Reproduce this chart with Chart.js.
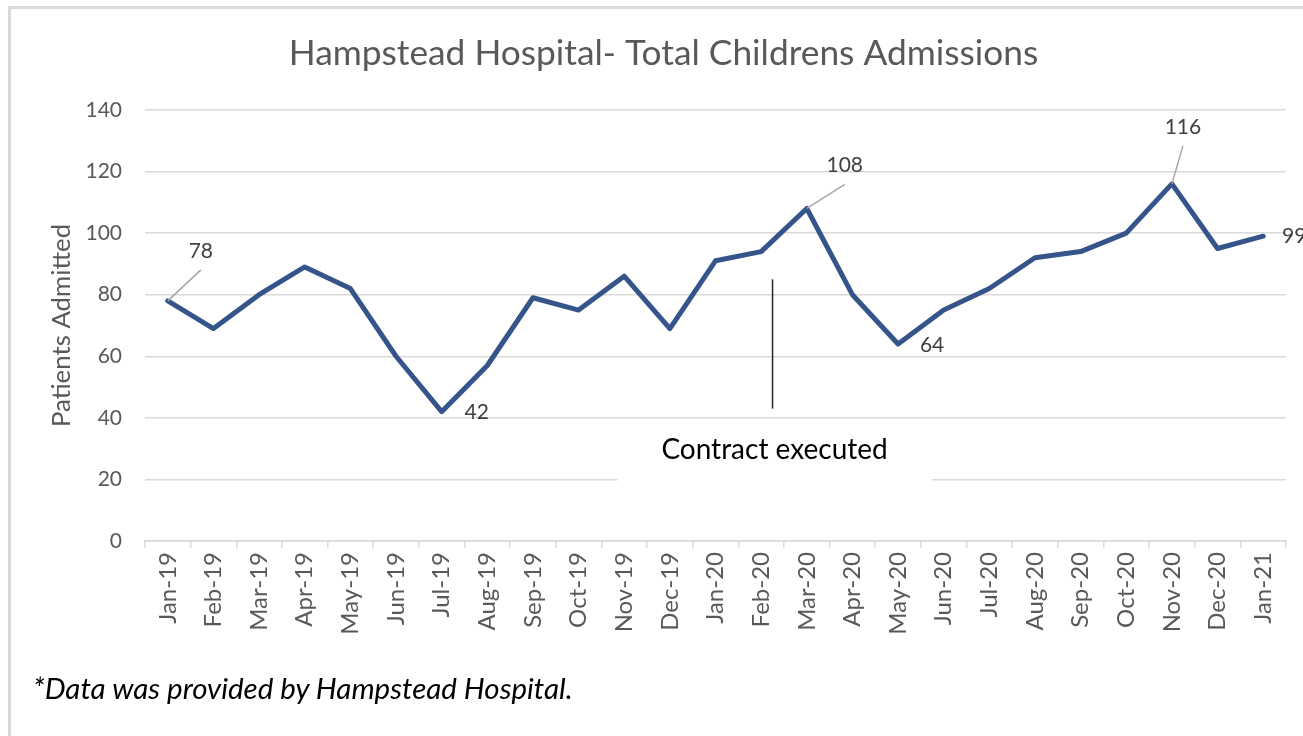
<!DOCTYPE html>
<html>
<head>
<meta charset="utf-8">
<script src="https://cdn.jsdelivr.net/npm/chart.js@4"></script>
<style>
  body { margin: 0; background: #fff; }
  #frame {
    position: absolute; left: 8px; top: 6px; width: 1295px; height: 730px;
    border-top: 3px solid #d9d9d9; border-left: 3px solid #d9d9d9;
  }
  #chart { position: absolute; left: 0; top: 0; }
  #note {
    position: absolute; left: 33px; top: 670px;
    font: italic 29.5px Lato, sans-serif; color: #000;
  }
</style>
</head>
<body>
<div id="frame"></div>
<canvas id="chart" width="1303" height="736"></canvas>
<div id="note">*Data was provided by Hampstead Hospital.</div>
<script>
const months = ["Jan-19", "Feb-19", "Mar-19", "Apr-19", "May-19", "Jun-19", "Jul-19", "Aug-19",
  "Sep-19", "Oct-19", "Nov-19", "Dec-19", "Jan-20", "Feb-20", "Mar-20", "Apr-20", "May-20",
  "Jun-20", "Jul-20", "Aug-20", "Sep-20", "Oct-20", "Nov-20", "Dec-20", "Jan-21"];
const admissions = [78, 69, 80, 89, 82, 60, 42, 57, 79, 75, 86, 69, 91, 94, 108, 80, 64,
  75, 82, 92, 94, 100, 116, 95, 99];
const yTicks = [0, 20, 40, 60, 80, 100, 120, 140];

// which points get a value label, and where it sits (px offset from the point)
const labelled = [
  { i: 0, dx: 33, dy: -50, leader: true },
  { i: 6, dx: 35, dy: 1, leader: false },
  { i: 14, dx: 38, dy: -43, leader: true },
  { i: 16, dx: 34, dy: 1, leader: false },
  { i: 22, dx: 11, dy: -57, leader: true },
  { i: 24, dx: 31, dy: 0, leader: false },
];

// "Contract executed" marker, in scale units
const contract = { x: 13.25, lineTop: 85, lineBottom: 43, textY: 29.5,
  boxLeft: 9.85, boxRight: 16.75, boxTop: 38, boxBottom: 14 };

const labelFont = "21px Lato, sans-serif";

const annotations = {
  id: "annotations",
  beforeDatasetsDraw(chart) {
    const { ctx, scales: { x, y } } = chart;
    // white text box covering part of the 20 gridline
    ctx.save();
    ctx.fillStyle = "#fff";
    const l = x.getPixelForValue(contract.boxLeft), r = x.getPixelForValue(contract.boxRight);
    const t = y.getPixelForValue(contract.boxTop), b = y.getPixelForValue(contract.boxBottom);
    ctx.fillRect(l, t, r - l, b - t);
    ctx.restore();
  },
  afterDatasetsDraw(chart) {
    const { ctx, scales: { x, y } } = chart;
    const meta = chart.getDatasetMeta(0);
    ctx.save();
    // contract line + text
    const cx = x.getPixelForValue(contract.x);
    ctx.strokeStyle = "#262626";
    ctx.lineWidth = 1.5;
    ctx.beginPath();
    ctx.moveTo(cx, y.getPixelForValue(contract.lineTop));
    ctx.lineTo(cx, y.getPixelForValue(contract.lineBottom));
    ctx.stroke();
    ctx.fillStyle = "#000";
    ctx.font = "28px Lato, sans-serif";
    ctx.textAlign = "center";
    ctx.textBaseline = "middle";
    ctx.fillText("Contract executed", cx + 2, y.getPixelForValue(contract.textY));

    // value labels
    ctx.font = labelFont;
    ctx.fillStyle = "#404040";
    ctx.strokeStyle = "#a6a6a6";
    labelled.forEach(lb => {
      const pt = meta.data[lb.i];
      const lx = pt.x + lb.dx, ly = pt.y + lb.dy;
      if (lb.leader) {
        ctx.beginPath();
        ctx.moveTo(pt.x, pt.y);
        ctx.lineTo(lx, ly + 19);
        ctx.stroke();
      }
      ctx.fillText(String(admissions[lb.i]), lx, ly);
    });
    ctx.restore();
  }
};

new Chart(document.getElementById("chart"), {
  type: "line",
  data: {
    labels: months,
    datasets: [{
      data: admissions,
      borderColor: "#35558a",
      borderWidth: 5,
      borderJoinStyle: "round",
      borderCapStyle: "round",
      pointRadius: 0,
      tension: 0,
      fill: false,
    }],
  },
  options: {
    responsive: false,
    animation: false,
    layout: { padding: { left: 41, right: 17, top: 0, bottom: 0 } },
    plugins: {
      legend: { display: false },
      tooltip: { enabled: false },
      title: {
        display: true,
        text: "Hampstead Hospital- Total Childrens Admissions",
        color: "#595959",
        font: { family: "Lato, sans-serif", size: 35.3, weight: "normal" },
        padding: { top: 32.8, bottom: 34.8 },
      },
    },
    scales: {
      x: {
        type: "category",
        offset: true,
        grid: { offset: true, drawOnChartArea: false, tickLength: 7, color: "#d9d9d9", lineWidth: 1.5 },
        border: { color: "#d9d9d9", width: 1.5 },
        ticks: {
          minRotation: 90, maxRotation: 90, autoSkip: false, padding: 4,
          color: "#595959", font: { family: "Lato, sans-serif", size: 24 },
        },
        afterFit(scale) { scale.height = 195; },
      },
      y: {
        min: 0, max: 140,
        afterBuildTicks(scale) { scale.ticks = yTicks.map(v => ({ value: v })); },
        grid: { drawTicks: false, color: "#d9d9d9", lineWidth: 1.5 },
        border: { display: false },
        ticks: { padding: 23, color: "#595959", font: { family: "Lato, sans-serif", size: 21 } },
        title: {
          display: true, text: "Patients Admitted", color: "#595959",
          font: { family: "Lato, sans-serif", size: 25.8 }, padding: { top: 5.5, bottom: 0 },
        },
        afterFit(scale) { scale.width = 104; },
      },
    },
  },
  plugins: [annotations],
});
</script>
</body>
</html>
